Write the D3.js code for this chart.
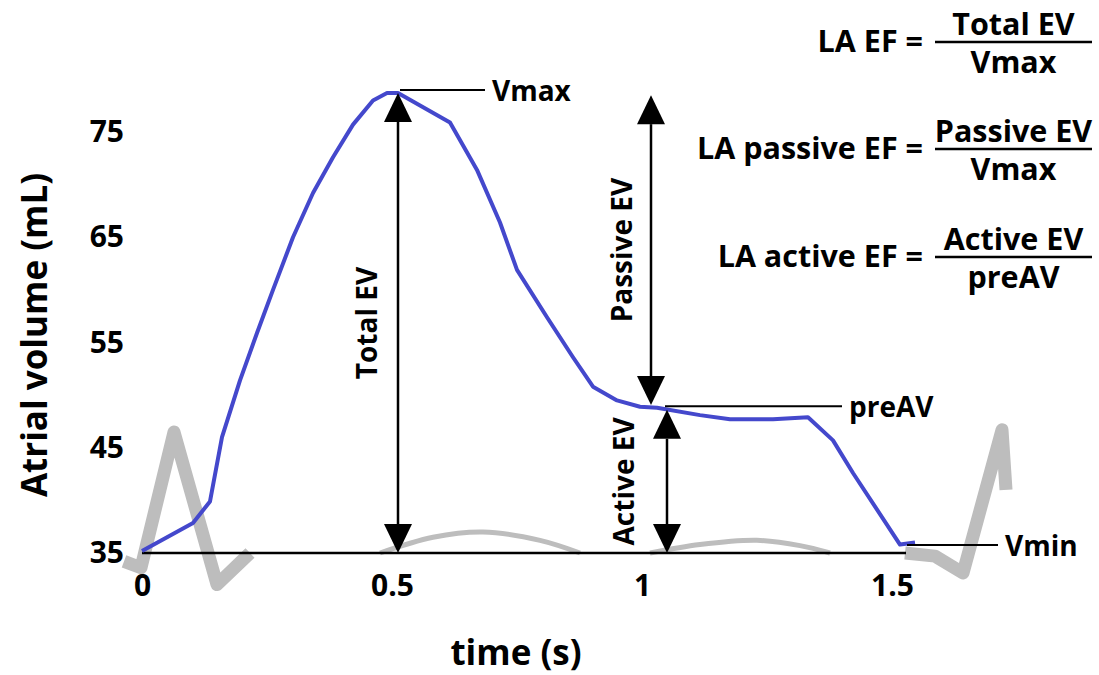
<!DOCTYPE html>
<html>
<head>
<meta charset="utf-8">
<script src="https://cdn.jsdelivr.net/npm/d3@7"></script>
<style>
  html, body { margin: 0; padding: 0; background: #fff; }
  svg { display: block; font-family: 'Open Sans', sans-serif; font-weight: bold; }
</style>
</head>
<body>
<svg id="chart" width="1099" height="675"></svg>
<script>
// LA volume over one cycle (blue curve)
const timeS = [0, 0.102, 0.136, 0.160, 0.196, 0.230, 0.262, 0.302, 0.342, 0.382, 0.422, 0.462, 0.490, 0.512,
  0.616, 0.670, 0.716, 0.750, 0.810, 0.862, 0.902, 0.950, 0.996, 1.030, 1.116, 1.176, 1.262, 1.332,
  1.382, 1.422, 1.516, 1.546];
const volumeMl = [35.2, 37.85, 39.9, 46.0, 51.4, 55.9, 60.0, 65.0, 69.2, 72.6, 75.7, 78.0, 78.7, 78.7,
  75.9, 71.4, 66.4, 61.9, 57.4, 53.6, 50.8, 49.5, 48.9, 48.8, 48.1, 47.7, 47.7, 47.9,
  45.7, 42.6, 35.8, 36.0];

// ECG trace in the background, [time, volume-scale]
const ecgBeat1 = [[-0.036, 34.2], [-0.002, 33.6], [0.064, 46.5], [0.150, 32.0], [0.216, 35.0]];
const ecgTWave = [[0.476, 35.0], [0.582, 36.5], [0.682, 37.0], [0.796, 36.2], [0.876, 35.0]];
const ecgPWave = [[1.016, 35.0], [1.116, 35.8], [1.230, 36.2], [1.316, 35.7], [1.376, 35.0]];
const ecgBeat2 = [[1.526, 35.0], [1.586, 34.7], [1.642, 33.1], [1.720, 46.7], [1.728, 41.0]];

const baselineRange = [0, 1.528];

const xTicks = [0, 0.5, 1, 1.5];
const xTickLabels = ['0', '0.5', '1', '1.5'];
const yTicks = [35, 45, 55, 65, 75];

// leader-line labels
const markerNames = ['Vmax', 'preAV', 'Vmin'];
const markerT = [0.516, 1.046, 1.530];
const markerEndT = [0.686, 1.400, 1.712];
const markerV = [79.0, 48.95, 35.76];

// double arrows
const arrowNames = ['Total EV', 'Passive EV', 'Active EV'];
const arrowT = [0.512, 1.018, 1.050];
const arrowTop = [78.7, 78.5, 48.6];
const arrowBottom = [35, 49.06, 35];

// formulas
const efNames = ['LA EF =', 'LA passive EF =', 'LA active EF ='];
const efNumerators = ['Total EV', 'Passive EV', 'Active EV'];
const efDenominators = ['Vmax', 'Vmax', 'preAV'];

const svg = d3.select('#chart');
const x = d3.scaleLinear().domain([0, 1.5]).range([142, 892]);
const y = d3.scaleLinear().domain([35, 75]).range([553, 132]);

// ECG background
const ecgLine = d3.line().x(d => x(d[0])).y(d => y(d[1]));
const ecgSmooth = d3.line().x(d => x(d[0])).y(d => y(d[1])).curve(d3.curveCatmullRom);
const gEcg = svg.append('g').attr('fill', 'none').attr('stroke', '#bdbdbd');
[ecgBeat1, ecgBeat2].forEach(pts => {
    gEcg.append('path').attr('d', ecgLine(pts))
        .attr('stroke-width', 13).attr('stroke-linejoin', 'round');
});
[ecgTWave, ecgPWave].forEach(pts => {
    gEcg.append('path').attr('d', ecgSmooth(pts)).attr('stroke-width', 5);
});

// baseline
svg.append('line')
    .attr('x1', x(baselineRange[0])).attr('x2', x(baselineRange[1]))
    .attr('y1', y(35)).attr('y2', y(35))
    .attr('stroke', '#000').attr('stroke-width', 2.5);

// volume curve
const volumeData = timeS.map((t, i) => [t, volumeMl[i]]);
svg.append('path')
    .datum(volumeData)
    .attr('d', d3.line().x(d => x(d[0])).y(d => y(d[1])))
    .attr('fill', 'none')
    .attr('stroke', '#4448cc')
    .attr('stroke-width', 4)
    .attr('stroke-linejoin', 'round');

// axes
const xAxis = svg.append('g')
    .attr('transform', `translate(0,${y(35)})`)
    .call(d3.axisBottom(x).tickValues(xTicks).tickSize(0).tickPadding(22)
        .tickFormat((d, i) => xTickLabels[i]));
const yAxis = svg.append('g')
    .attr('transform', `translate(${x(0)},0)`)
    .call(d3.axisLeft(y).tickValues(yTicks).tickSize(0).tickPadding(18));
[xAxis, yAxis].forEach(g => {
    g.select('.domain').remove();
    g.selectAll('text')
        .attr('font-family', "'Open Sans', sans-serif")
        .attr('font-weight', 'bold')
        .attr('font-size', 30)
        .attr('fill', '#000');
});

svg.append('text')
    .attr('transform', 'translate(33,335) rotate(-90)')
    .attr('text-anchor', 'middle')
    .attr('dominant-baseline', 'central')
    .attr('font-size', 35)
    .text('Atrial volume (mL)');

svg.append('text')
    .attr('x', 516).attr('y', 665)
    .attr('text-anchor', 'middle')
    .attr('font-size', 35)
    .text('time (s)');

// leader lines with labels
markerNames.forEach((name, i) => {
    const yy = y(markerV[i]);
    svg.append('line')
        .attr('x1', x(markerT[i])).attr('x2', x(markerEndT[i]))
        .attr('y1', yy).attr('y2', yy)
        .attr('stroke', '#000').attr('stroke-width', 2);
    svg.append('text')
        .attr('x', x(markerEndT[i]) + 7).attr('y', yy)
        .attr('dominant-baseline', 'central')
        .attr('font-size', 28)
        .text(name);
});

// double arrows
const headW = 14, headH = 29;
const labelDx = [-32, -30, -44];
arrowNames.forEach((name, i) => {
    const ax = x(arrowT[i]);
    const yTop = y(arrowTop[i]);
    const yBot = y(arrowBottom[i]);
    svg.append('line')
        .attr('x1', ax).attr('x2', ax)
        .attr('y1', yTop + headH).attr('y2', yBot - headH)
        .attr('stroke', '#000').attr('stroke-width', 2.5);
    svg.append('path')
        .attr('d', `M${ax},${yTop}L${ax - headW},${yTop + headH}L${ax + headW},${yTop + headH}Z`)
        .attr('fill', '#000');
    svg.append('path')
        .attr('d', `M${ax},${yBot}L${ax - headW},${yBot - headH}L${ax + headW},${yBot - headH}Z`)
        .attr('fill', '#000');
    svg.append('text')
        .attr('transform', `translate(${ax + labelDx[i]},${(yTop + yBot) / 2}) rotate(-90)`)
        .attr('text-anchor', 'middle')
        .attr('dominant-baseline', 'central')
        .attr('font-size', 28)
        .text(name);
});

// EF formulas, top right
const barY = [42, 149, 257];
const barX0 = 935, barX1 = 1092;
efNames.forEach((name, i) => {
    const g = svg.append('g').attr('font-size', 30.5);
    g.append('text')
        .attr('x', 923).attr('y', barY[i] + 10)
        .attr('text-anchor', 'end')
        .text(name);
    g.append('line')
        .attr('x1', barX0).attr('x2', barX1)
        .attr('y1', barY[i]).attr('y2', barY[i])
        .attr('stroke', '#000').attr('stroke-width', 2.5);
    g.append('text')
        .attr('x', (barX0 + barX1) / 2).attr('y', barY[i] - 7)
        .attr('text-anchor', 'middle')
        .text(efNumerators[i]);
    g.append('text')
        .attr('x', (barX0 + barX1) / 2).attr('y', barY[i] + 31)
        .attr('text-anchor', 'middle')
        .text(efDenominators[i]);
});
</script>
</body>
</html>
